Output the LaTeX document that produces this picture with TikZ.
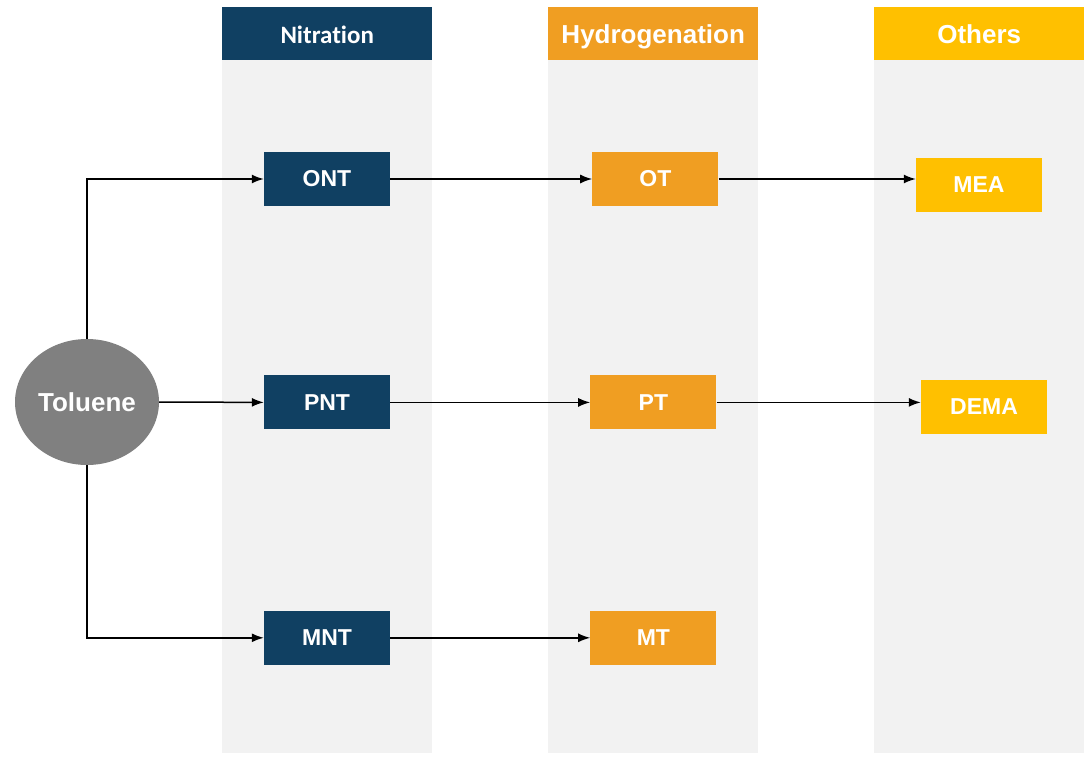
\documentclass[tikz,border=0pt]{standalone}
\usepackage{fontspec}
\setmainfont{Liberation Sans}
\newfontfamily\carlito[Ligatures=NoCommon]{Carlito}
\usepackage{xcolor}
\usepackage{tikz}
\usetikzlibrary{positioning,shapes.geometric,arrows.meta}
\definecolor{nitroblue}{RGB}{16,64,98}
\definecolor{hydroorange}{RGB}{240,158,34}
\definecolor{othergold}{RGB}{255,192,0}
\definecolor{lanegray}{RGB}{242,242,242}
\definecolor{toluenegray}{RGB}{128,128,128}

\begin{document}
\begin{tikzpicture}[
		x=1pt,y=-1pt,
		lane/.style={fill=lanegray, minimum width=210pt, minimum height=693pt, inner sep=0pt, anchor=north west},
		head/.style={text=white, font=\bfseries\fontsize{26}{26}\selectfont, text depth=0pt, minimum width=210pt, minimum height=53pt, inner sep=0pt, anchor=north west},
		box/.style={text=white, font=\bfseries\fontsize{23}{23}\selectfont, minimum width=126pt, minimum height=54pt, inner sep=0pt},
		link/.style={line width=1.5pt, -{Latex[length=12pt,width=9pt]}}
		]
		\useasboundingbox (0,0) rectangle (1089,757);
		
		% ====== CÁC CỘT NỀN ======
		\node[lane] (laneN) at (222,60) {};
		\node[lane] (laneH) at (548,60) {};
		\node[lane] (laneO) at (874,60) {};
		
		\node[head, fill=nitroblue, font=\carlito\bfseries\fontsize{25}{25}\selectfont] (headN) at (222,7) {\raisebox{-2pt}{Nitration}};
		\node[head, fill=hydroorange] (headH) at (548,7) {Hydrogenation};
		\node[head, fill=othergold] (headO) at (874,7) {Others};
		
		% ====== NGUYÊN LIỆU ======
		\node[ellipse, fill=toluenegray, text=white, minimum width=144pt, minimum height=126pt, inner sep=0pt,
		font=\bfseries\fontsize{26}{26}\selectfont] (tol) at (87,402) {Toluene};
		
		% ====== CỘT NITRATION ======
		\node[box, fill=nitroblue] (ONT) at (327,179) {ONT};
		\node[box, fill=nitroblue, below=169pt of ONT] (PNT) {PNT};
		\node[box, fill=nitroblue, below=181pt of PNT] (MNT) {MNT};
		
		% ====== CỘT HYDROGENATION ======
		\node[box, fill=hydroorange, right=202pt of ONT] (OT) {OT};
		\node[box, fill=hydroorange, right=200pt of PNT] (PT) {PT};
		\node[box, fill=hydroorange, right=200pt of MNT] (MT) {MT};
		
		% ====== CỘT OTHERS ======
		\node[box, fill=othergold] (MEA) at (979,185) {MEA};
		\node[box, fill=othergold] (DEMA) at (984,407) {DEMA};
		
		% ====== ĐƯỜNG NỐI ======
		\draw[link] (tol.north) |- (ONT.west);
		\draw[link] (tol.east) -- (PNT.west);
		\draw[link] (tol.south) |- (MNT.west);
		
		\draw[link] (ONT) -- (OT);
		\draw[link] (PNT) -- (PT);
		\draw[link] (MNT) -- (MT);
		
		\draw[link] (OT.east) -- (OT.east -| MEA.west);
		\draw[link] (PT.east) -- (PT.east -| DEMA.west);
		
\end{tikzpicture}
\end{document}
